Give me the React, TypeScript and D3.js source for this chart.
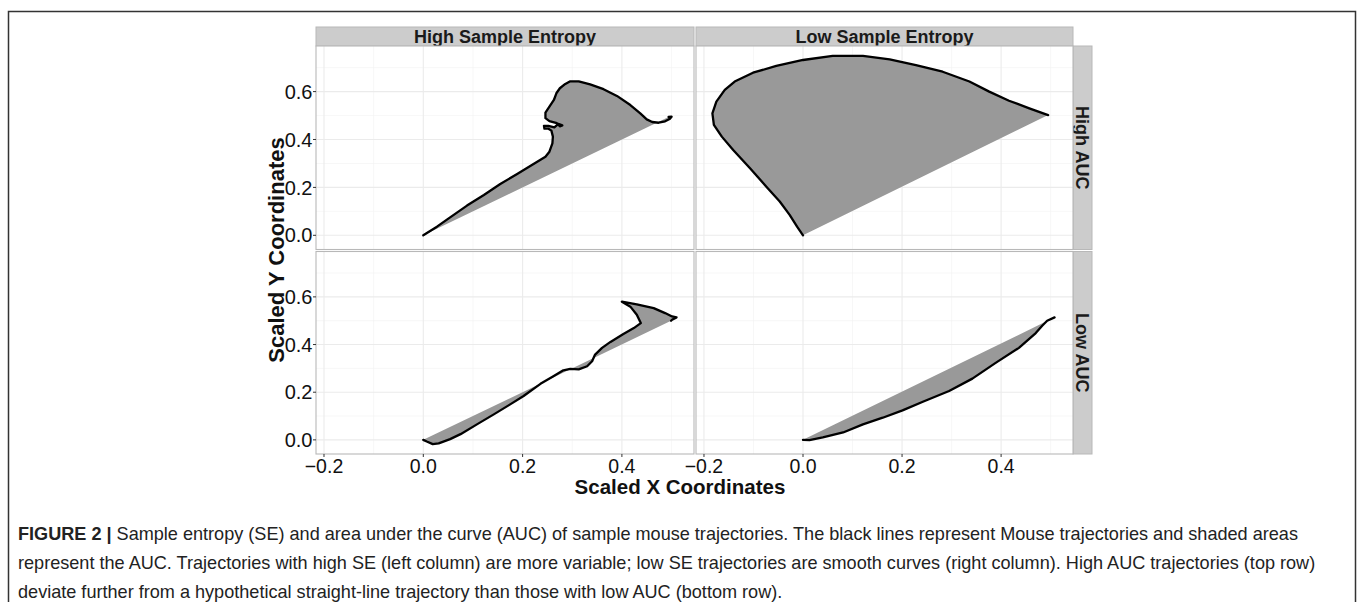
import React from "react";
import * as d3 from "d3";

type Pt = [number, number];

// Column (sample entropy) and row (AUC) facet labels
const columnLabels = ["High Sample Entropy", "Low Sample Entropy"];
const rowLabels = ["High AUC", "Low AUC"];

// Axis ticks
const xTicks = [-0.2, 0.0, 0.2, 0.4];
const yTicks = [0.0, 0.2, 0.4, 0.6];
const xMinor = [-0.1, 0.1, 0.3, 0.5];
const yMinor = [0.1, 0.3, 0.5, 0.7];

// Scaled mouse trajectories, one per facet
const highSEHighAUC: Pt[] = [
  [0, 0], [0.0275, 0.036], [0.054, 0.075], [0.088, 0.124], [0.122, 0.168],
  [0.155, 0.214], [0.189, 0.256], [0.222, 0.298], [0.246, 0.328], [0.254, 0.349],
  [0.26, 0.384], [0.261, 0.412], [0.258, 0.437], [0.252, 0.445], [0.244, 0.445],
  [0.243, 0.457], [0.252, 0.457], [0.264, 0.451], [0.272, 0.465], [0.28, 0.459],
  [0.275, 0.455], [0.269, 0.468], [0.254, 0.477], [0.246, 0.489], [0.246, 0.512],
  [0.254, 0.537], [0.263, 0.565], [0.268, 0.593], [0.275, 0.614], [0.286, 0.632],
  [0.296, 0.643], [0.313, 0.643], [0.336, 0.63], [0.363, 0.61], [0.39, 0.582],
  [0.417, 0.544], [0.437, 0.509], [0.45, 0.484], [0.461, 0.473], [0.474, 0.47],
  [0.487, 0.476], [0.497, 0.487], [0.5, 0.495], [0.494, 0.494],
];

const lowSEHighAUC: Pt[] = [
  [0, 0], [-0.012, 0.036], [-0.027, 0.085], [-0.047, 0.141], [-0.074, 0.203],
  [-0.107, 0.28], [-0.141, 0.356], [-0.164, 0.412], [-0.18, 0.461], [-0.183, 0.509],
  [-0.175, 0.558], [-0.158, 0.607], [-0.138, 0.642], [-0.101, 0.679], [-0.054, 0.707],
  [0.0, 0.732], [0.06, 0.749], [0.121, 0.749], [0.175, 0.735], [0.228, 0.711],
  [0.282, 0.683], [0.336, 0.642], [0.376, 0.6], [0.416, 0.562], [0.457, 0.53],
  [0.495, 0.502],
];

const highSELowAUC: Pt[] = [
  [0, 0], [0.007, -0.007], [0.019, -0.018], [0.031, -0.015], [0.054, 0.003],
  [0.075, 0.024], [0.108, 0.065], [0.142, 0.107], [0.175, 0.149], [0.202, 0.184],
  [0.236, 0.235], [0.262, 0.267], [0.282, 0.292], [0.296, 0.298], [0.313, 0.296],
  [0.33, 0.309], [0.34, 0.33], [0.346, 0.358], [0.36, 0.386], [0.377, 0.411],
  [0.403, 0.444], [0.424, 0.469], [0.438, 0.49], [0.43, 0.525], [0.417, 0.559],
  [0.4, 0.58], [0.43, 0.569], [0.464, 0.553], [0.487, 0.532], [0.501, 0.518],
  [0.51, 0.514], [0.501, 0.504], [0.499, 0.5],
];

const lowSELowAUC: Pt[] = [
  [0, 0], [0.013, -0.001], [0.04, 0.01], [0.081, 0.031], [0.121, 0.065],
  [0.161, 0.093], [0.201, 0.124], [0.242, 0.16], [0.295, 0.205], [0.342, 0.257],
  [0.389, 0.323], [0.436, 0.386], [0.47, 0.448], [0.483, 0.479], [0.493, 0.5],
  [0.508, 0.514],
];

// trajectories indexed [row][column]
const trajectories: Pt[][][] = [
  [highSEHighAUC, lowSEHighAUC],
  [highSELowAUC, lowSELowAUC],
];

const captionLines = [
  "Sample entropy (SE) and area under the curve (AUC) of sample mouse trajectories. The black lines represent Mouse trajectories and shaded areas",
  "represent the AUC. Trajectories with high SE (left column) are more variable; low SE trajectories are smooth curves (right column). High AUC trajectories (top row)",
  "deviate further from a hypothetical straight-line trajectory than those with low AUC (bottom row).",
];

const W = 1358;
const H = 602;
const FONT = "'Liberation Sans', Arial, Helvetica, sans-serif";

const colX: [number, number][] = [
  [316, 694],
  [696, 1073],
];
const rowY: [number, number][] = [
  [46, 249.5],
  [251.5, 454],
];
const xDomain: [number, number] = [-0.2161, 0.5452];
const yDomain: [number, number] = [-0.0593, 0.7904];

function Panel({ r, c }: { r: number; c: number }) {
  const [x0, x1] = colX[c];
  const [y0, y1] = rowY[r];
  const x = d3.scaleLinear().domain(xDomain).range([x0, x1]);
  const y = d3.scaleLinear().domain(yDomain).range([y1, y0]);
  const pts = trajectories[r][c];
  const line = d3
    .line<Pt>()
    .x((d) => x(d[0]))
    .y((d) => y(d[1]));
  const traj = line(pts) || "";
  const area = traj + "Z";
  const clipId = `clip-${r}-${c}`;
  return (
    <g>
      <defs>
        <clipPath id={clipId}>
          <rect x={x0} y={y0} width={x1 - x0} height={y1 - y0} />
        </clipPath>
      </defs>
      <rect x={x0} y={y0} width={x1 - x0} height={y1 - y0} fill="#ffffff" />
      <g clipPath={`url(#${clipId})`}>
        {xMinor.map((v) => (
          <line key={`xm${v}`} x1={x(v)} x2={x(v)} y1={y0} y2={y1} stroke="#f2f2f2" strokeWidth={0.6} />
        ))}
        {yMinor.map((v) => (
          <line key={`ym${v}`} x1={x0} x2={x1} y1={y(v)} y2={y(v)} stroke="#f2f2f2" strokeWidth={0.6} />
        ))}
        {xTicks.map((v) => (
          <line key={`xM${v}`} x1={x(v)} x2={x(v)} y1={y0} y2={y1} stroke="#ebebeb" strokeWidth={1.1} />
        ))}
        {yTicks.map((v) => (
          <line key={`yM${v}`} x1={x0} x2={x1} y1={y(v)} y2={y(v)} stroke="#ebebeb" strokeWidth={1.1} />
        ))}
        <path d={area} fill="#999999" stroke="none" />
        <path d={traj} fill="none" stroke="#000000" strokeWidth={2.3} strokeLinejoin="round" strokeLinecap="round" />
      </g>
      <rect x={x0} y={y0} width={x1 - x0} height={y1 - y0} fill="none" stroke="#b8b8b8" strokeWidth={1.1} />
      {c === 0 &&
        yTicks.map((v) => (
          <g key={`yt${v}`}>
            <line x1={x0 - 3} x2={x0} y1={y(v)} y2={y(v)} stroke="#333" strokeWidth={1} />
            <text x={x0 - 3.5} y={y(v)} dy="0.36em" textAnchor="end" fontSize={20} fontFamily={FONT} fill="#111">
              {d3.format(".1f")(v)}
            </text>
          </g>
        ))}
      {r === 1 &&
        xTicks.map((v) => (
          <g key={`xt${v}`}>
            <line x1={x(v)} x2={x(v)} y1={y1} y2={y1 + 3} stroke="#333" strokeWidth={1} />
            <text x={x(v)} y={y1 + 19} textAnchor="middle" fontSize={19.5} fontFamily={FONT} fill="#111">
              {d3.format(".1f")(v)}
            </text>
          </g>
        ))}
    </g>
  );
}

export default function App() {
  const stripTop = 27;
  const stripRight = 1092;
  return (
    <svg width={W} height={H} style={{ display: "block", position: "absolute", left: 0, top: 0 }}>
      <rect x={0} y={0} width={W} height={H} fill="#ffffff" />
      {/* figure frame */}
      <path d={`M8.5,${H + 2} L8.5,11.5 L1355.5,11.5 L1355.5,${H + 2}`} fill="none" stroke="#333333" strokeWidth={1.5} />

      {/* column strips */}
      {columnLabels.map((lab, c) => {
        const [x0, x1] = colX[c];
        return (
          <g key={lab}>
            <rect x={x0} y={stripTop} width={x1 - x0} height={rowY[0][0] - stripTop} fill="#cccccc" stroke="#b8b8b8" strokeWidth={1} />
            <text x={(x0 + x1) / 2} y={(stripTop + rowY[0][0]) / 2} dy="0.36em" textAnchor="middle" fontSize={18} fontWeight="bold" fontFamily={FONT} fill="#1a1a1a">
              {lab}
            </text>
          </g>
        );
      })}

      {/* row strips */}
      {rowLabels.map((lab, r) => {
        const [y0, y1] = rowY[r];
        const x0 = colX[1][1];
        const cx = (x0 + stripRight) / 2;
        const cy = (y0 + y1) / 2;
        return (
          <g key={lab}>
            <rect x={x0} y={y0} width={stripRight - x0} height={y1 - y0} fill="#cccccc" stroke="#b8b8b8" strokeWidth={1} />
            <text transform={`translate(${cx},${cy}) rotate(90)`} dy="0.36em" textAnchor="middle" fontSize={18} fontWeight="bold" fontFamily={FONT} fill="#1a1a1a">
              {lab}
            </text>
          </g>
        );
      })}

      {[0, 1].map((r) => [0, 1].map((c) => <Panel key={`${r}-${c}`} r={r} c={c} />))}

      {/* axis titles */}
      <text x={680} y={494} textAnchor="middle" fontSize={20.5} fontWeight="bold" fontFamily={FONT} fill="#111">
        Scaled X Coordinates
      </text>
      <text transform={`translate(284,250) rotate(-90)`} textAnchor="middle" fontSize={22} fontWeight="bold" fontFamily={FONT} fill="#111">
        Scaled Y Coordinates
      </text>

      {/* caption */}
      {captionLines.map((line, i) => (
        <text key={i} x={18} y={540 + i * 29} fontSize={18.1} fontFamily={FONT} fill="#222">
          {i === 0 && <tspan fontWeight="bold">FIGURE 2 | </tspan>}
          {line}
        </text>
      ))}
    </svg>
  );
}
